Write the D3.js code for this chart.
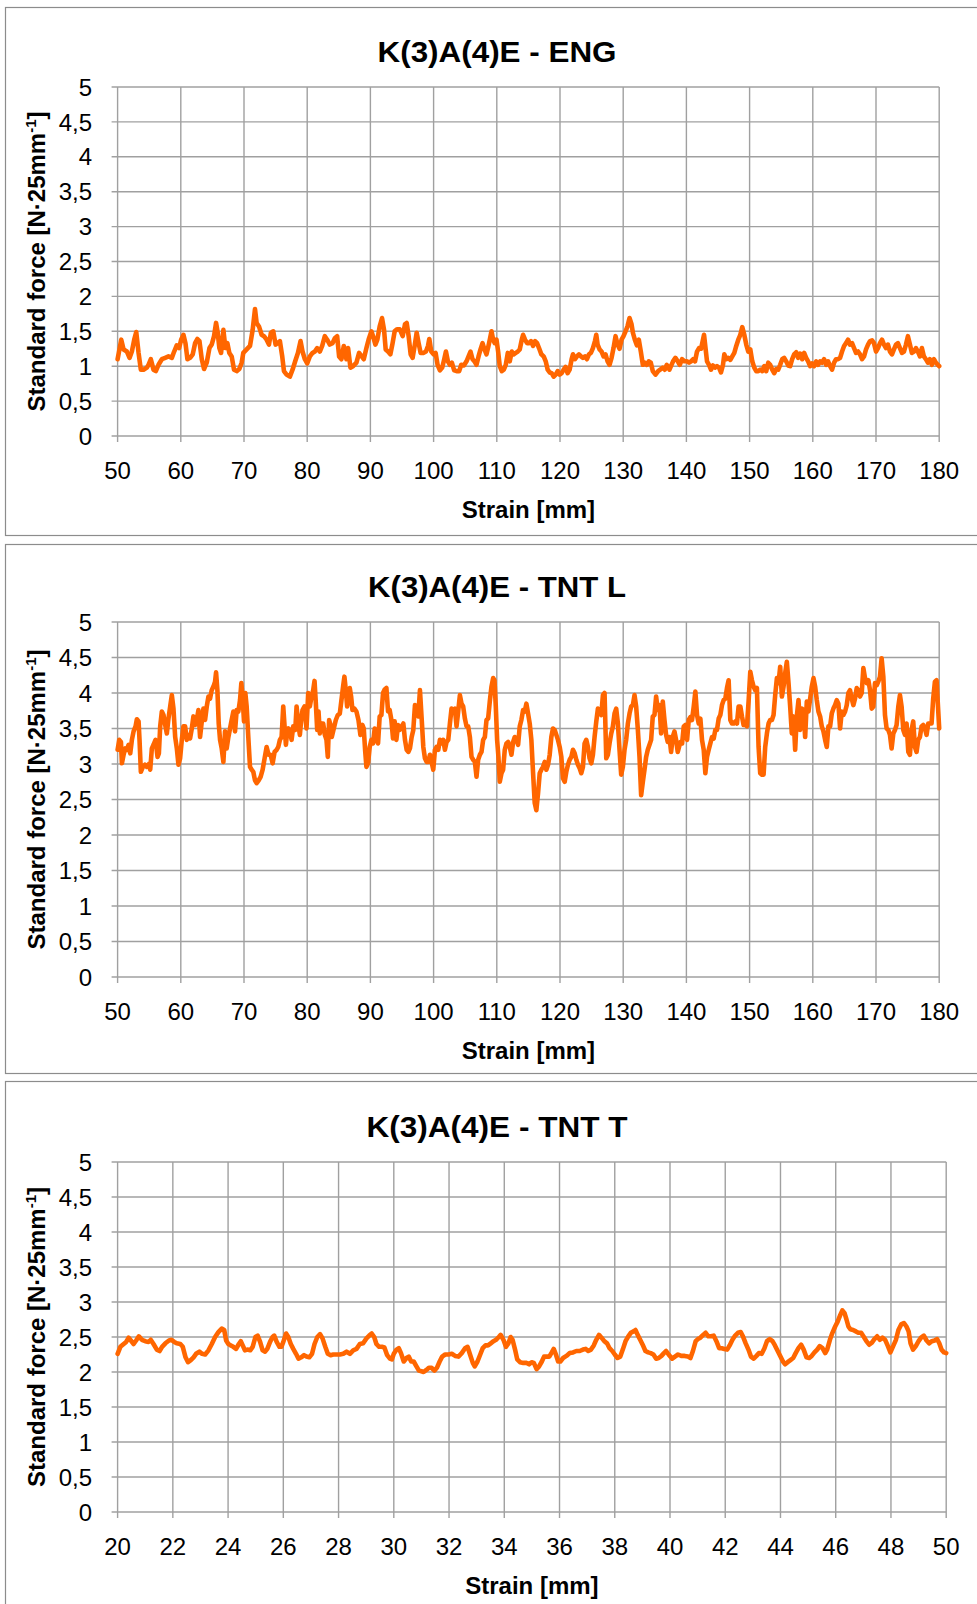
<!DOCTYPE html>
<html><head><meta charset="utf-8">
<script src="https://cdn.jsdelivr.net/npm/d3@7"></script>
<style>body{margin:0;background:#fff}svg{display:block}</style>
</head><body>
<script>
const titles = ["K(3)A(4)E - ENG", "K(3)A(4)E - TNT L", "K(3)A(4)E - TNT T"];
const yTicks = [0, 0.5, 1, 1.5, 2, 2.5, 3, 3.5, 4, 4.5, 5];
const xTicksLong = [50, 60, 70, 80, 90, 100, 110, 120, 130, 140, 150, 160, 170, 180];
const xTicksShort = [20, 22, 24, 26, 28, 30, 32, 34, 36, 38, 40, 42, 44, 46, 48, 50];
const xTitle = "Strain [mm]";
const yTitleMain = "Standard force [N·25mm";
const yTitleSup = "-1";

// [strain mm, standard force]
const engData = [
[50.0,1.10],[50.58,1.38],[50.95,1.24],[51.47,1.21],[51.89,1.12],[52.26,1.21],[52.63,1.38],[52.95,1.49],[53.32,1.19],[53.68,0.95],[54.1,0.95],[54.63,0.98],[54.89,1.02],[55.26,1.10],[55.68,0.95],[56.05,0.93],[56.47,1.02],[57.0,1.10],[57.53,1.12],[58.05,1.14],[58.58,1.12],[58.95,1.21],[59.37,1.30],[59.74,1.26],[60.05,1.38],[60.42,1.45],[60.74,1.33],[61.05,1.10],[61.47,1.12],[61.89,1.17],[62.26,1.33],[62.63,1.39],[62.95,1.36],[63.32,1.10],[63.68,0.96],[64.1,1.05],[64.53,1.26],[64.89,1.31],[65.26,1.43],[65.58,1.62],[65.84,1.48],[66.1,1.26],[66.37,1.19],[66.74,1.52],[67.05,1.26],[67.37,1.33],[67.68,1.19],[68.05,1.14],[68.42,0.95],[68.84,0.93],[69.26,0.96],[69.63,1.05],[69.89,1.19],[70.42,1.24],[70.95,1.29],[71.37,1.52],[71.74,1.82],[72.0,1.62],[72.37,1.57],[72.79,1.45],[73.16,1.43],[73.58,1.38],[73.95,1.31],[74.26,1.48],[74.63,1.50],[75.0,1.31],[75.32,1.33],[75.68,1.36],[76.05,1.14],[76.32,0.93],[76.74,0.88],[77.26,0.85],[77.68,0.95],[78.1,1.07],[78.53,1.19],[78.95,1.36],[79.26,1.21],[79.63,1.10],[80.0,1.04],[80.42,1.14],[80.84,1.19],[81.21,1.21],[81.58,1.26],[82.0,1.21],[82.37,1.29],[82.79,1.43],[83.16,1.38],[83.58,1.31],[84.0,1.33],[84.37,1.40],[84.74,1.43],[85.05,1.14],[85.42,1.10],[85.79,1.29],[86.21,1.10],[86.47,1.26],[86.84,0.98],[87.26,1.00],[87.79,1.05],[88.21,1.19],[88.63,1.14],[88.95,1.10],[89.37,1.26],[89.74,1.39],[90.16,1.50],[90.42,1.43],[90.79,1.31],[91.1,1.38],[91.47,1.57],[91.84,1.69],[92.16,1.52],[92.42,1.24],[92.79,1.21],[93.16,1.17],[93.47,1.31],[93.84,1.50],[94.21,1.53],[94.63,1.53],
[95.11,1.43],[95.47,1.60],[95.74,1.62],[96.05,1.43],[96.37,1.17],[96.68,1.12],[97.0,1.29],[97.32,1.48],[97.63,1.33],[97.95,1.19],[98.37,1.19],[98.79,1.21],[99.11,1.29],[99.32,1.39],[99.63,1.21],[100.0,1.17],[100.32,1.19],[100.63,1.02],[101.0,0.94],[101.37,0.98],[101.68,1.10],[101.95,1.21],[102.26,1.07],[102.58,1.02],[102.89,1.05],[103.26,0.94],[103.63,0.93],[104.05,0.93],[104.37,1.02],[104.79,1.01],[105.21,1.07],[105.53,1.14],[105.84,1.21],[106.16,1.10],[106.47,1.07],[106.79,1.02],[107.11,1.14],[107.42,1.24],[107.74,1.33],[108.05,1.24],[108.37,1.17],[108.68,1.29],[108.89,1.38],[109.16,1.50],[109.42,1.38],[109.68,1.33],[109.95,1.38],[110.21,1.21],[110.47,1.00],[110.79,0.93],[111.11,0.95],[111.42,1.02],[111.74,1.19],[112.05,1.07],[112.37,1.21],[112.68,1.17],[113.0,1.19],[113.32,1.21],[113.63,1.24],[113.95,1.38],[114.16,1.45],[114.47,1.38],[114.79,1.33],[115.11,1.33],[115.42,1.36],[115.74,1.29],[116.05,1.36],[116.37,1.33],[116.68,1.26],[117.05,1.17],[117.42,1.14],[117.74,1.07],[118.05,0.95],[118.37,0.91],[118.68,0.90],[119.0,0.85],[119.32,0.88],[119.63,0.93],[119.95,0.88],[120.26,0.90],[120.58,0.95],[120.89,0.99],[121.21,0.90],[121.53,0.95],[121.84,1.10],[122.05,1.17],[122.37,1.10],[122.68,1.14],[123.0,1.17],[123.32,1.14],[123.63,1.12],[123.95,1.14],[124.26,1.10],[124.58,1.17],[124.89,1.19],[125.21,1.26],[125.53,1.36],[125.74,1.45],[125.95,1.31],[126.26,1.24],[126.58,1.21],[126.89,1.14],[127.21,1.17],[127.53,1.07],[127.84,1.02],[128.16,1.12],[128.47,1.26],[128.79,1.43],[129.11,1.31],[129.42,1.25],[129.74,1.38],[130.05,1.43],[130.37,1.50],[130.68,1.57],[131.0,1.69],[131.32,1.60],[131.53,1.48],[131.84,1.38],[132.16,1.30],[132.47,1.38],[132.79,1.21],[133.11,1.02],[133.42,1.05],[133.74,1.02],[134.05,1.07],[134.37,1.05],[134.68,0.93],[135.11,0.88],[135.53,0.93],[135.84,0.95],[136.26,0.98],[136.58,0.95],[136.89,1.02],[137.32,0.95],
[137.89,1.07],[138.26,1.12],[138.63,1.07],[138.95,1.02],[139.32,1.10],[139.68,1.07],[140.11,1.07],[140.42,1.05],[140.74,1.07],[141.05,1.10],[141.37,1.07],[141.68,1.21],[142.0,1.26],[142.32,1.25],[142.58,1.36],[142.79,1.45],[143.05,1.24],[143.26,1.07],[143.58,1.02],[143.89,0.95],[144.21,1.01],[144.53,0.98],[144.84,1.00],[145.16,0.98],[145.47,0.91],[145.79,1.02],[146.0,1.17],[146.32,1.10],[146.63,1.12],[146.95,1.09],[147.26,1.14],[147.58,1.19],[147.89,1.29],[148.21,1.38],[148.53,1.45],[148.84,1.56],[149.16,1.45],[149.47,1.31],[149.79,1.21],[150.11,1.24],[150.42,1.07],[150.74,0.98],[151.05,0.93],[151.37,0.93],[151.68,0.95],[152.0,0.93],[152.32,1.00],[152.63,0.93],[152.95,1.05],[153.26,1.02],[153.58,0.95],[153.89,0.90],[154.21,0.96],[154.53,0.95],[154.84,1.02],[155.16,1.10],[155.47,1.12],[155.79,1.07],[156.11,1.01],[156.42,1.00],[156.74,1.10],[157.05,1.17],[157.37,1.20],[157.68,1.12],[158.0,1.18],[158.32,1.10],[158.63,1.19],[158.95,1.12],[159.26,1.07],[159.58,1.00],[159.89,1.04],[160.21,1.00],[160.53,1.07],[160.84,1.02],[161.16,1.07],[161.47,1.05],[161.79,1.10],[162.11,1.02],[162.42,1.07],[162.74,1.00],[163.05,0.95],[163.37,1.05],[163.68,1.10],[164.0,1.10],[164.32,1.12],[164.63,1.21],[164.95,1.29],[165.26,1.33],[165.58,1.38],[165.89,1.31],[166.21,1.33],[166.53,1.26],[166.84,1.19],[167.16,1.21],[167.47,1.17],[167.79,1.10],[168.11,1.14],[168.42,1.24],[168.74,1.31],[169.05,1.36],[169.37,1.37],[169.68,1.33],[170.0,1.21],[170.32,1.26],[170.63,1.33],[170.95,1.38],[171.26,1.31],[171.58,1.26],[171.89,1.31],[172.21,1.21],[172.53,1.17],[172.84,1.24],[173.16,1.31],[173.47,1.33],[173.79,1.26],[174.11,1.19],[174.42,1.21],[174.74,1.31],[175.05,1.43],[175.37,1.31],[175.68,1.19],[176.0,1.21],[176.32,1.26],[176.63,1.21],[176.95,1.14],[177.26,1.26],[177.58,1.14],[177.89,1.10],[178.21,1.05],[178.53,1.10],[178.84,1.02],[179.16,1.10],[179.47,1.05],[179.79,1.02],[180.0,1.00]
];

const tntLData = [
[50.0,3.20],[50.26,3.34],[50.53,3.31],[50.68,3.01],[50.95,3.13],[51.21,3.22],[51.47,3.20],[51.74,3.27],[52.0,3.15],[52.26,3.34],[52.53,3.46],[52.84,3.53],[53.05,3.63],[53.32,3.60],[53.47,3.34],[53.68,2.89],[54.0,2.96],[54.32,2.99],[54.63,2.96],[54.95,3.00],[55.16,2.92],[55.42,3.22],[55.68,3.27],[56.0,3.34],[56.32,3.10],[56.53,3.15],[56.74,3.53],[57.0,3.74],[57.26,3.69],[57.53,3.55],[57.79,3.43],[58.05,3.64],[58.32,3.81],[58.58,3.97],[58.84,3.78],[59.11,3.38],[59.37,3.22],[59.63,2.99],[59.89,3.08],[60.16,3.34],[60.42,3.53],[60.68,3.53],[60.95,3.34],[61.21,3.41],[61.47,3.36],[61.74,3.50],[62.0,3.67],[62.26,3.55],[62.53,3.62],[62.79,3.76],[63.05,3.38],[63.32,3.60],[63.58,3.78],[63.84,3.62],[64.11,3.81],[64.37,3.95],[64.63,3.92],[64.89,4.04],[65.16,4.09],[65.42,4.16],[65.58,4.29],[65.79,4.04],[66.0,3.57],[66.21,3.34],[66.47,3.22],[66.74,3.03],[67.0,3.46],[67.26,3.22],[67.53,3.38],[67.79,3.50],[68.05,3.62],[68.32,3.74],[68.58,3.46],[68.84,3.76],[69.11,3.74],[69.37,3.90],[69.58,4.14],[69.79,3.92],[70.0,3.60],[70.21,4.00],[70.42,3.81],[70.68,3.38],[70.95,2.96],[71.21,2.92],[71.47,2.89],[71.74,2.77],[72.0,2.73],[72.32,2.77],[72.63,2.82],[72.95,2.92],[73.26,3.08],[73.58,3.24],[73.89,3.13],[74.21,3.13],[74.53,3.01],[74.84,3.17],[75.16,3.20],[75.42,3.24],[75.68,3.34],[75.95,3.38],[76.21,3.81],[76.42,3.53],[76.63,3.27],[76.84,3.46],[77.05,3.50],[77.26,3.46],[77.53,3.34],[77.79,3.53],[78.11,3.48],[78.32,3.81],[78.58,3.57],[78.84,3.41],[79.05,3.62],[79.26,3.76],[79.58,3.81],[79.89,3.50],[80.16,4.00],[80.42,3.81],[80.68,3.95],[80.95,4.04],[81.16,4.17],[81.37,3.85],[81.58,3.48],[81.79,3.74],[82.0,3.43],[82.26,3.57],[82.53,3.57],[82.79,3.41],[83.05,3.34],[83.26,3.10],[83.47,3.62],[83.68,3.55],[83.89,3.38],[84.21,3.50],[84.53,3.62],[84.84,3.69],[85.16,3.71],[85.42,3.90],[85.68,4.09],[85.89,4.23],[86.11,4.04],[86.32,3.81],[86.53,3.95],[86.74,4.07],[86.95,3.95],[87.16,3.76],[87.47,3.78],[87.79,3.74],[88.11,3.62],[88.42,3.41],[88.74,3.55],[88.95,3.50],[89.16,3.20],[89.37,2.96],[89.63,3.01],[89.89,3.24],[90.16,3.34],[90.42,3.29],[90.68,3.50],[90.95,3.38],[91.21,3.29],[91.47,3.67],[91.74,3.69],[92.0,4.00],[92.26,4.05],[92.53,4.07],[92.79,3.74],[93.05,3.76],[93.32,3.62],[93.58,3.36],[93.84,3.60],[94.11,3.34],[94.37,3.55],[94.63,3.48],
[94.95,3.53],[95.21,3.57],[95.47,3.34],[95.74,3.20],[96.0,3.17],[96.26,3.22],[96.53,3.38],[96.79,3.48],[97.05,3.83],[97.32,3.71],[97.58,3.67],[97.84,4.04],[98.11,3.64],[98.37,3.24],[98.63,3.08],[98.89,3.03],[99.16,3.03],[99.42,3.13],[99.68,3.03],[99.95,2.92],[100.21,3.20],[100.47,3.24],[100.74,3.20],[101.0,3.34],[101.26,3.29],[101.53,3.34],[101.79,3.20],[102.05,3.31],[102.32,3.34],[102.58,3.57],[102.84,3.78],[103.11,3.76],[103.37,3.78],[103.63,3.53],[103.89,3.74],[104.16,3.97],[104.42,3.85],[104.68,3.81],[104.95,3.64],[105.21,3.53],[105.47,3.53],[105.74,3.38],[106.0,3.10],[106.26,3.06],[106.53,3.03],[106.79,2.82],[107.05,3.06],[107.32,3.13],[107.58,3.17],[107.84,3.34],[108.11,3.38],[108.37,3.62],[108.63,3.64],[108.89,3.88],[109.16,4.09],[109.42,4.21],[109.63,4.18],[109.84,3.81],[110.05,3.34],[110.26,3.10],[110.47,2.75],[110.74,2.87],[111.0,2.92],[111.26,3.20],[111.53,3.29],[111.79,3.31],[112.05,3.24],[112.32,3.13],[112.58,3.31],[112.84,3.38],[113.11,3.34],[113.37,3.27],[113.63,3.53],[113.89,3.62],[114.16,3.76],[114.42,3.74],[114.68,3.85],[114.95,3.71],[115.21,3.57],[115.47,3.34],[115.74,2.87],[116.0,2.45],[116.26,2.35],[116.53,2.59],[116.79,2.87],[117.05,2.92],[117.32,2.96],[117.58,3.03],[117.84,2.92],[118.11,2.99],[118.37,3.13],[118.63,3.38],[118.89,3.50],[119.16,3.48],[119.42,3.41],[119.68,3.34],[119.95,3.24],[120.21,3.10],[120.47,2.80],[120.74,2.75],[121.0,2.89],[121.26,2.99],[121.53,3.06],[121.79,3.10],[122.05,3.20],[122.32,3.15],[122.58,3.06],[122.84,2.99],[123.11,2.94],[123.37,2.87],[123.63,2.96],[123.89,3.29],[124.16,3.34],[124.42,3.24],[124.68,3.08],[124.95,3.01],[125.21,3.13],[125.47,3.38],[125.74,3.60],[126.0,3.78],[126.26,3.76],[126.53,3.69],[126.79,3.97],[127.05,4.00],[127.32,3.08],[127.58,3.13],[127.84,3.29],[128.11,3.43],[128.37,3.53],[128.63,3.71],[128.89,3.78],[129.16,3.57],[129.42,3.20],[129.68,2.85],[129.95,2.96],[130.21,3.20],[130.47,3.34],[130.74,3.57],[131.0,3.71],[131.26,3.81],[131.53,3.83],[131.79,3.97],[132.05,3.81],[132.32,3.48],[132.58,3.10],[132.84,2.56],[133.11,2.75],[133.37,2.92],[133.63,3.10],[133.89,3.20],[134.16,3.27],[134.42,3.34],[134.68,3.67],[134.95,3.69],[135.21,3.95],[135.47,3.76],[135.74,3.83],[136.0,3.43],[136.26,3.88],[136.53,3.62],[136.79,3.41],[137.05,3.31],[137.32,3.38],[137.58,3.17],[137.84,3.38],[138.11,3.46],[138.37,3.34],[138.63,3.17],
[139.05,3.31],[139.32,3.29],[139.58,3.53],[139.84,3.55],[140.11,3.34],[140.37,3.62],[140.63,3.66],[140.89,3.62],[141.16,3.81],[141.42,4.02],[141.68,3.69],[141.95,3.57],[142.21,3.64],[142.47,3.34],[142.74,3.20],[143.0,2.87],[143.26,3.10],[143.53,3.20],[143.79,3.29],[144.05,3.38],[144.32,3.36],[144.58,3.48],[144.84,3.48],[145.11,3.64],[145.37,3.69],[145.63,3.83],[145.89,3.90],[146.16,3.92],[146.42,4.07],[146.68,4.18],[146.95,3.62],[147.21,3.57],[147.47,3.57],[147.74,3.60],[148.0,3.57],[148.26,3.81],[148.53,3.81],[148.79,3.67],[149.05,3.55],[149.32,3.55],[149.58,3.53],[149.84,3.88],[150.11,4.30],[150.37,4.18],[150.63,4.09],[150.89,4.04],[151.16,4.07],[151.42,3.24],[151.68,2.87],[151.95,2.85],[152.21,2.85],[152.47,3.24],[152.74,3.43],[153.0,3.57],[153.26,3.62],[153.53,3.62],[153.79,3.69],[154.05,3.97],[154.32,4.21],[154.58,4.14],[154.84,4.37],[155.11,3.95],[155.37,4.09],[155.63,4.28],[155.89,4.44],[156.16,4.14],[156.42,3.81],[156.68,3.43],[156.95,3.67],[157.21,3.20],[157.47,3.67],[157.74,3.90],[158.0,3.48],[158.26,3.78],[158.53,3.76],[158.79,3.38],[159.05,3.88],[159.32,3.74],[159.58,3.92],[159.84,4.09],[160.11,4.21],[160.37,4.09],[160.63,3.90],[160.89,3.74],[161.16,3.67],[161.42,3.53],[161.68,3.46],[161.95,3.34],[162.21,3.24],[162.47,3.53],[162.74,3.53],[163.0,3.71],[163.26,3.78],[163.53,3.83],[163.79,3.90],[164.05,3.85],[164.32,3.50],[164.58,3.74],[164.84,3.69],[165.11,3.74],[165.37,3.83],[165.63,4.00],[165.89,4.04],[166.16,3.92],[166.42,3.83],[166.68,3.92],[166.95,4.07],[167.21,4.04],[167.47,3.95],[167.74,4.00],[168.0,4.35],[168.26,4.21],[168.53,4.14],[168.79,4.18],[169.05,4.04],[169.32,3.78],[169.58,3.81],[169.84,4.14],[170.11,4.11],[170.37,4.16],[170.63,4.23],[170.89,4.49],[171.16,4.23],[171.42,3.69],[171.68,3.50],[171.95,3.48],[172.21,3.41],[172.47,3.22],[172.74,3.43],[173.0,3.48],[173.26,3.55],[173.53,3.81],[173.79,3.97],[174.05,3.81],[174.32,3.48],[174.58,3.41],[174.84,3.57],[175.11,3.17],[175.37,3.13],[175.63,3.48],[175.89,3.60],[176.16,3.24],[176.42,3.17],[176.68,3.34],[176.95,3.38],[177.21,3.53],[177.47,3.55],[177.74,3.50],[178.0,3.41],[178.26,3.57],[178.53,3.57],[178.79,3.57],[179.05,3.92],[179.32,4.16],[179.58,4.18],[179.84,3.76],[180.0,3.50]
];

const tntTData = [
[20.0,2.26],[20.1,2.36],[20.22,2.40],[20.31,2.43],[20.4,2.49],[20.48,2.45],[20.58,2.40],[20.67,2.45],[20.77,2.51],[20.88,2.46],[21.0,2.44],[21.12,2.43],[21.2,2.46],[21.3,2.40],[21.42,2.32],[21.52,2.30],[21.61,2.36],[21.73,2.41],[21.86,2.45],[21.95,2.46],[22.05,2.43],[22.14,2.41],[22.27,2.40],[22.36,2.36],[22.46,2.21],[22.55,2.14],[22.65,2.17],[22.75,2.21],[22.84,2.26],[22.96,2.29],[23.06,2.26],[23.17,2.25],[23.29,2.31],[23.41,2.40],[23.53,2.50],[23.65,2.57],[23.77,2.62],[23.86,2.60],[23.93,2.45],[24.01,2.40],[24.1,2.38],[24.19,2.36],[24.29,2.33],[24.39,2.40],[24.46,2.44],[24.53,2.38],[24.61,2.31],[24.7,2.32],[24.8,2.31],[24.89,2.36],[24.99,2.50],[25.07,2.52],[25.16,2.43],[25.25,2.31],[25.34,2.29],[25.42,2.33],[25.52,2.43],[25.61,2.50],[25.67,2.52],[25.76,2.43],[25.86,2.36],[25.93,2.36],[26.0,2.43],[26.1,2.55],[26.18,2.50],[26.27,2.40],[26.36,2.33],[26.46,2.26],[26.55,2.19],[26.65,2.21],[26.75,2.24],[26.84,2.22],[26.94,2.21],[27.04,2.26],[27.13,2.40],[27.23,2.50],[27.33,2.54],[27.42,2.48],[27.52,2.36],[27.61,2.26],[27.71,2.24],[27.81,2.25],[27.93,2.25],[28.05,2.25],[28.17,2.26],[28.29,2.29],[28.41,2.26],[28.53,2.31],[28.65,2.33],[28.77,2.40],[28.89,2.41],[29.01,2.48],[29.11,2.52],[29.2,2.55],[29.29,2.50],[29.37,2.40],[29.47,2.36],[29.57,2.36],[29.66,2.35],[29.76,2.24],[29.86,2.19],[29.93,2.18],[30.0,2.26],[30.1,2.32],
[30.18,2.34],[30.26,2.27],[30.36,2.15],[30.46,2.20],[30.54,2.22],[30.63,2.15],[30.72,2.15],[30.82,2.08],[30.91,2.02],[31.0,2.01],[31.08,2.00],[31.18,2.03],[31.27,2.06],[31.37,2.06],[31.47,2.02],[31.56,2.06],[31.66,2.15],[31.75,2.22],[31.86,2.25],[31.98,2.25],[32.1,2.26],[32.22,2.23],[32.34,2.22],[32.46,2.27],[32.58,2.34],[32.67,2.36],[32.76,2.25],[32.86,2.13],[32.93,2.08],[33.03,2.15],[33.13,2.25],[33.22,2.34],[33.32,2.38],[33.41,2.38],[33.51,2.41],[33.61,2.44],[33.7,2.46],[33.8,2.50],[33.87,2.53],[33.97,2.46],[34.06,2.36],[34.15,2.41],[34.23,2.50],[34.3,2.46],[34.39,2.32],[34.47,2.18],[34.57,2.14],[34.69,2.13],[34.81,2.13],[34.9,2.11],[34.99,2.14],[35.07,2.13],[35.17,2.04],[35.26,2.08],[35.36,2.15],[35.44,2.22],[35.53,2.22],[35.63,2.22],[35.72,2.28],[35.79,2.33],[35.87,2.25],[35.95,2.15],[36.03,2.15],[36.13,2.20],[36.25,2.23],[36.37,2.27],[36.49,2.28],[36.61,2.30],[36.73,2.30],[36.85,2.32],[36.95,2.33],[37.04,2.30],[37.14,2.32],[37.24,2.38],[37.33,2.46],[37.43,2.53],[37.52,2.49],[37.62,2.44],[37.72,2.41],[37.81,2.34],[37.91,2.30],[38.0,2.25],[38.1,2.20],[38.2,2.22],[38.29,2.32],[38.39,2.44],[38.49,2.51],[38.58,2.56],[38.68,2.58],[38.75,2.60],[38.83,2.53],[38.92,2.46],[39.01,2.39],[39.11,2.30],[39.21,2.28],[39.3,2.27],[39.4,2.25],[39.5,2.19],[39.59,2.20],[39.69,2.23],[39.78,2.27],[39.86,2.30],[39.95,2.25],
[40.08,2.19],[40.18,2.22],[40.29,2.25],[40.41,2.23],[40.53,2.23],[40.65,2.22],[40.74,2.20],[40.83,2.30],[40.93,2.44],[41.01,2.47],[41.1,2.49],[41.2,2.53],[41.29,2.56],[41.39,2.51],[41.49,2.51],[41.58,2.52],[41.68,2.44],[41.78,2.34],[41.87,2.34],[41.97,2.33],[42.07,2.32],[42.16,2.38],[42.26,2.46],[42.36,2.52],[42.46,2.56],[42.56,2.57],[42.64,2.51],[42.74,2.41],[42.84,2.32],[42.93,2.22],[43.03,2.19],[43.13,2.23],[43.22,2.27],[43.32,2.26],[43.42,2.34],[43.51,2.44],[43.61,2.47],[43.71,2.44],[43.8,2.38],[43.9,2.30],[44.0,2.22],[44.09,2.15],[44.17,2.11],[44.26,2.14],[44.36,2.17],[44.46,2.20],[44.55,2.27],[44.65,2.34],[44.75,2.39],[44.84,2.32],[44.94,2.21],[45.04,2.20],[45.13,2.23],[45.23,2.28],[45.33,2.32],[45.42,2.37],[45.52,2.34],[45.62,2.27],[45.69,2.32],[45.79,2.46],[45.88,2.56],[45.98,2.65],[46.07,2.72],[46.17,2.82],[46.24,2.88],[46.32,2.84],[46.39,2.75],[46.46,2.65],[46.53,2.61],[46.63,2.60],[46.73,2.58],[46.82,2.56],[46.92,2.56],[47.02,2.50],[47.11,2.44],[47.21,2.39],[47.31,2.42],[47.4,2.47],[47.5,2.51],[47.6,2.46],[47.69,2.49],[47.79,2.46],[47.89,2.37],[47.98,2.28],[48.08,2.37],[48.18,2.46],[48.27,2.60],[48.37,2.68],[48.47,2.70],[48.56,2.65],[48.64,2.58],[48.71,2.41],[48.8,2.32],[48.9,2.37],[49.0,2.44],[49.09,2.49],[49.19,2.52],[49.29,2.45],[49.38,2.41],[49.48,2.44],[49.58,2.45],[49.67,2.47],[49.75,2.41],[49.83,2.32],[49.92,2.28],[50.0,2.27]
];

const W = 977, H = 1604;
const FONT = "'Liberation Sans', Arial, sans-serif";
const GRID = "#a0a0a0";
const LINE = "#ff6600";
const fmt = d => String(d).replace(".", ",");

const svg = d3.select("body").append("svg").attr("width", W).attr("height", H)
  .style("font-family", FONT);

const panels = [
  {title: titles[0], tlen: 239, data: engData, xd: [50, 180], xt: xTicksLong,
   fTop: 7.5, fBot: 535.5, top: 87, bottom: 436, left: 117.6, right: 939.2},
  {title: titles[1], tlen: 258, data: tntLData, xd: [50, 180], xt: xTicksLong,
   fTop: 544.5, fBot: 1073.5, top: 622, bottom: 977, left: 117.6, right: 939.2},
  {title: titles[2], tlen: 261, data: tntTData, xd: [20, 50], xt: xTicksShort,
   fTop: 1081.5, fBot: 1640, top: 1162, bottom: 1512, left: 117.6, right: 946.2}
];

panels.forEach(p => {
  const g = svg.append("g");
  g.append("rect").attr("x", 5.5).attr("y", p.fTop).attr("width", 1100)
    .attr("height", p.fBot - p.fTop).attr("fill", "#fff").attr("stroke", "#8c8c8c").attr("stroke-width", 1.2);

  const x = d3.scaleLinear().domain(p.xd).range([p.left, p.right]);
  const y = d3.scaleLinear().domain([0, 5]).range([p.bottom, p.top]);

  g.selectAll("line.hg").data(yTicks).join("line").attr("class", "hg")
    .attr("x1", p.left - 6).attr("x2", p.right)
    .attr("y1", d => y(d)).attr("y2", d => y(d))
    .attr("stroke", GRID).attr("stroke-width", 1.4);
  g.selectAll("line.vg").data(p.xt).join("line").attr("class", "vg")
    .attr("x1", d => x(d)).attr("x2", d => x(d))
    .attr("y1", p.top).attr("y2", p.bottom + 6)
    .attr("stroke", GRID).attr("stroke-width", 1.4);

  g.selectAll("text.yl").data(yTicks).join("text").attr("class", "yl")
    .attr("x", 92).attr("y", d => y(d)).attr("dy", "0.36em")
    .attr("text-anchor", "end").attr("font-size", 24).attr("fill", "#000")
    .text(fmt);
  g.selectAll("text.xl").data(p.xt).join("text").attr("class", "xl")
    .attr("x", d => x(d)).attr("y", p.bottom + 43)
    .attr("text-anchor", "middle").attr("font-size", 24).attr("fill", "#000")
    .text(d => d);

  g.append("text").attr("x", 497).attr("y", p.top - 25)
    .attr("text-anchor", "middle").attr("font-size", 30).attr("font-weight", "bold")
    .attr("textLength", p.tlen).attr("lengthAdjust", "spacingAndGlyphs")
    .text(p.title);

  g.append("text").attr("x", (p.left + p.right) / 2).attr("y", p.bottom + 82)
    .attr("text-anchor", "middle").attr("font-size", 24).attr("font-weight", "bold")
    .text(xTitle);

  const yt = g.append("text")
    .attr("transform", `translate(44.5,${(p.top + p.bottom) / 2}) rotate(-90)`)
    .attr("text-anchor", "middle").attr("font-size", 24).attr("font-weight", "bold");
  yt.append("tspan").text(yTitleMain);
  yt.append("tspan").attr("font-size", 15).attr("dy", -9).text(yTitleSup);
  yt.append("tspan").attr("dy", 9).text("]");

  g.append("path").datum(p.data)
    .attr("d", d3.line().x(d => x(d[0])).y(d => y(d[1])))
    .attr("fill", "none").attr("stroke", LINE).attr("stroke-width", 4.6)
    .attr("stroke-linejoin", "round").attr("stroke-linecap", "round");
});
</script>
</body></html>
